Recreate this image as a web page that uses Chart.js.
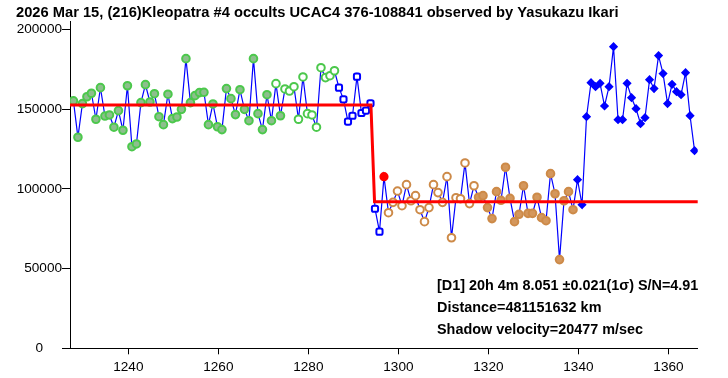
<!DOCTYPE html>
<html>
<head>
<meta charset="utf-8">
<script src="https://cdn.jsdelivr.net/npm/chart.js@4.4.1/dist/chart.umd.min.js"></script>
<style>
  body { margin: 0; background: #fff; }
  #wrap { width: 728px; height: 378px; }
</style>
</head>
<body>
<div id="wrap"><canvas id="lightCurve" width="728" height="378"></canvas></div>
<script>
// Light curve, one value per frame
const firstFrame = 1227.8;
const flux = [
  155100, 132300, 153400, 157700, 159900, 143600, 163400, 145600, 146300, 138600,
  149000, 136700, 164600, 126400, 128100, 154000, 165300, 154400, 159600, 145200,
  140200, 159300, 144000, 145000, 149800, 181600, 154000, 158400, 160300, 160500,
  140200, 153200, 138900, 137100, 162800, 156500, 146500, 162100, 149800, 142700,
  181600, 147100, 137100, 159000, 142700, 165900, 145800, 162600, 161300, 164000,
  143600, 170100, 147100, 146300, 138600, 175900, 169700, 170900, 174000, 163400,
  156100, 142100, 145800, 170300, 147500, 149000, 153600, 87500, 73100, 107600,
  85000, 91500, 98600, 89400, 102600, 92500, 95700, 86900, 79400, 88200,
  102600, 97600, 91500, 107600, 69300, 94400, 93800, 116200, 90700, 101900,
  94700, 95700, 88200, 81300, 98200, 92800, 113500, 94000, 79400, 84000,
  101900, 84600, 84600, 94700, 81900, 80000, 109500, 96900, 55600, 92500,
  98200, 86900, 105700, 90000, 145200, 166500, 164000, 166100, 151900, 164000,
  189100, 143300, 143300, 166100, 157100, 150200, 140800, 144600, 168400, 162800,
  183500, 172200, 153400, 165500, 160900, 159000, 172800, 145800, 123900
];

// which marker each stretch of frames gets: [group, number of frames]
const markerRuns = [
  ['greenFilled', 45], ['greenHollow', 1], ['greenFilled', 1], ['greenHollow', 12],
  ['blueHollow', 10], ['redFilled', 1], ['orangeHollow', 20], ['orangeFilled', 22],
  ['blueFilled', 27]
];

// step fit of the disappearance (D1)
const fitFrames = [1227.04, 1293.9, 1294.7, 1366.5];
const fitLevels = [152600, 152600, 91900, 91900];

const xTicks = [1240, 1260, 1280, 1300, 1320, 1340, 1360];
const yTicks = [0, 50000, 100000, 150000, 200000];

const titleText = '2026 Mar 15, (216)Kleopatra #4 occults UCAC4 376-108841 observed by Yasukazu Ikari';
const infoLines = [
  '[D1] 20h 4m 8.051 \u00b10.021(1\u03c3) S/N=4.91',
  'Distance=481151632 km',
  'Shadow velocity=20477 m/sec'
];

const FONT = '"Liberation Sans", Arial, sans-serif';

const markerStyle = {
  greenFilled:  { shape: 'circle',      r: 3.8, fill: '#8dbf8d', edge: '#4cc84c' },
  greenHollow:  { shape: 'circle',      r: 3.8, fill: '#ffffff', edge: '#4cc84c' },
  blueHollow:   { shape: 'rectRounded', r: 3.6, fill: '#ffffff', edge: '#0000ff' },
  redFilled:    { shape: 'circle',      r: 3.6, fill: '#ff0000', edge: '#ff0000' },
  orangeHollow: { shape: 'circle',      r: 3.8, fill: '#ffffff', edge: '#cd8a48' },
  orangeFilled: { shape: 'circle',      r: 3.8, fill: '#d4975c', edge: '#cd8a48' },
  blueFilled:   { shape: 'rectRot',     r: 3.2, fill: '#0000ff', edge: '#0000ff' }
};

// split the points into marker groups
const groups = {};
let idx = 0;
markerRuns.forEach(([name, count]) => {
  if (!groups[name]) groups[name] = [];
  for (let k = 0; k < count; k++, idx++) {
    groups[name].push({ x: firstFrame + idx, y: flux[idx] });
  }
});

const datasets = [];

// red fit line on top
datasets.push({
  data: fitFrames.map((f, i) => ({ x: f, y: fitLevels[i] })),
  showLine: true,
  borderColor: '#ff0000',
  borderWidth: 3,
  borderCapStyle: 'round',
  pointRadius: 0,
  order: 0
});

Object.keys(groups).forEach(name => {
  const st = markerStyle[name];
  datasets.push({
    data: groups[name],
    showLine: false,
    pointStyle: st.shape,
    pointRadius: st.r,
    pointBackgroundColor: st.fill,
    pointBorderColor: st.edge,
    pointBorderWidth: 2,
    order: 1
  });
});

// connecting blue line underneath everything
datasets.push({
  data: flux.map((v, i) => ({ x: firstFrame + i, y: v })),
  showLine: true,
  borderColor: '#0000ff',
  borderWidth: 1.2,
  pointRadius: 0,
  order: 2
});

const textPlugin = {
  id: 'occultText',
  afterDraw(chart) {
    const ctx = chart.ctx;
    ctx.save();
    ctx.fillStyle = '#000';
    ctx.textBaseline = 'alphabetic';
    ctx.textAlign = 'left';
    ctx.font = 'bold 14.7px ' + FONT;
    ctx.fillText(titleText, 16, 17);
    ctx.font = 'bold 14.4px ' + FONT;
    infoLines.forEach((t, k) => ctx.fillText(t, 437, 289.5 + k * 22));
    ctx.restore();
  }
};

new Chart(document.getElementById('lightCurve'), {
  type: 'scatter',
  data: { datasets },
  options: {
    responsive: false,
    animation: false,
    layout: { padding: { left: 0, top: 21.3, right: 30.3, bottom: 0 } },
    plugins: { legend: { display: false }, tooltip: { enabled: false } },
    scales: {
      x: {
        type: 'linear',
        min: 1227.04,
        max: 1366.5,
        grid: { display: true, drawOnChartArea: false, drawTicks: true, tickLength: 6, color: '#000' },
        border: { display: true, color: '#000', width: 1 },
        ticks: {
          color: '#000',
          font: { family: FONT, size: 13.6 },
          padding: 4.5,
          autoSkip: false,
          maxRotation: 0,
          callback: v => String(v)
        },
        afterBuildTicks: s => { s.ticks = xTicks.map(v => ({ value: v })); },
        afterFit: s => { s.height = 29.7; }
      },
      y: {
        min: 0,
        max: 205000,
        grid: { display: true, drawOnChartArea: false, drawTicks: true, tickLength: 8, color: '#000' },
        border: { display: true, color: '#000', width: 1 },
        ticks: {
          color: '#000',
          font: { family: FONT, size: 13.6 },
          padding: 0,
          // the zero label sits further left in the original
          callback: v => (v === 0 ? '0     ' : String(v))
        },
        afterBuildTicks: s => { s.ticks = yTicks.map(v => ({ value: v })); },
        afterFit: s => { s.width = 70; }
      }
    }
  },
  plugins: [textPlugin]
});
</script>
</body>
</html>
